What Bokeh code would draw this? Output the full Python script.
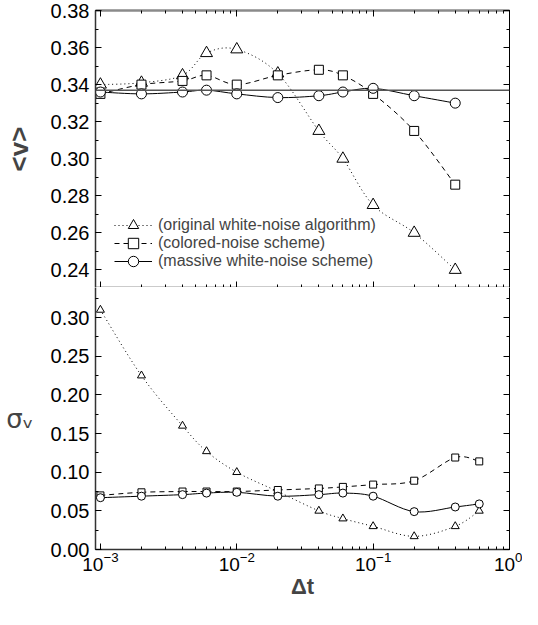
import numpy as np
from bokeh.plotting import figure
from bokeh.layouts import column
from bokeh.models import (Range1d, LogAxis, LinearAxis, LogTicker, SingleIntervalTicker,
                          Span, Legend, LegendItem, CustomJSTickFormatter, NumeralTickFormatter)
from bokeh.embed import file_html
from bokeh.resources import INLINE

# ---------------- data ----------------
dt = [0.001, 0.002, 0.004, 0.006, 0.01, 0.02, 0.04, 0.06, 0.1, 0.2, 0.4, 0.6]

# <v> panel
v_orig = [0.340, 0.341, 0.345, 0.357, 0.359, 0.346, 0.315, 0.300, 0.275, 0.260, 0.240]
v_col = [0.335, 0.340, 0.342, 0.345, 0.340, 0.345, 0.348, 0.345, 0.335, 0.315, 0.286]
v_mass = [0.336, 0.335, 0.336, 0.337, 0.335, 0.333, 0.334, 0.336, 0.338, 0.334, 0.330]
v_ref = 0.337

# sigma_v panel
s_orig = [0.310, 0.225, 0.160, 0.127, 0.100, 0.075, 0.050, 0.040, 0.030, 0.017, 0.030, 0.050]
s_col = [0.070, 0.074, 0.075, 0.075, 0.075, 0.077, 0.079, 0.081, 0.084, 0.089, 0.119, 0.114]
s_mass = [0.067, 0.069, 0.071, 0.073, 0.074, 0.069, 0.071, 0.073, 0.069, 0.049, 0.055, 0.059]

labels = ["(original white-noise algorithm)", "(colored-noise scheme)",
          "(massive white-noise scheme)"]

FONT = "Liberation Sans"


def spline_segments(xs, ys):
    """Catmull-Rom segments (in log10-x space) as cubic Bezier control points."""
    lx = np.log10(np.asarray(xs, float))
    y = np.asarray(ys, float)
    n = len(lx)
    px = np.concatenate([[lx[0]], lx, [lx[-1]]])
    py = np.concatenate([[y[0]], y, [y[-1]]])
    x0, y0, x1, y1, cx0, cy0, cx1, cy1 = [], [], [], [], [], [], [], []
    for i in range(n - 1):
        p0x, p1x, p2x, p3x = px[i], px[i + 1], px[i + 2], px[i + 3]
        p0y, p1y, p2y, p3y = py[i], py[i + 1], py[i + 2], py[i + 3]
        x0.append(10 ** p1x); y0.append(p1y)
        x1.append(10 ** p2x); y1.append(p2y)
        cx0.append(10 ** (p1x + (p2x - p0x) / 6)); cy0.append(p1y + (p2y - p0y) / 6)
        cx1.append(10 ** (p2x - (p3x - p1x) / 6)); cy1.append(p2y - (p3y - p1y) / 6)
    return dict(x0=x0, y0=y0, x1=x1, y1=y1, cx0=cx0, cy0=cy0, cx1=cx1, cy1=cy1)


W = 522
FRAME_LEFT = 93
BORDER_RIGHT = 13

x_range = Range1d(10 ** -3.036, 1.0)
blank = "return ''"


def style_axes(p):
    for ax in p.axis:
        ax.major_tick_in = 6
        ax.major_tick_out = 0
        ax.minor_tick_in = 3
        ax.minor_tick_out = 0
        ax.major_tick_line_color = "black"
        ax.minor_tick_line_color = "black"
        ax.axis_line_color = "#333333"
        ax.axis_line_width = 1.5
        ax.major_label_text_font = FONT
        ax.major_label_text_color = "black"
        ax.axis_label_text_font = FONT


def make_fig(height, y_range, top_border, bottom_border):
    p = figure(width=W, height=height, x_axis_type="log", y_axis_type="linear",
               x_axis_location=None, y_axis_location=None,
               x_range=x_range, y_range=y_range, output_backend="svg",
               toolbar_location=None, min_border_left=FRAME_LEFT,
               min_border_right=BORDER_RIGHT, min_border_top=top_border,
               min_border_bottom=bottom_border)
    p.outline_line_color = None
    p.grid.visible = False
    p.background_fill_color = "white"
    p.border_fill_color = "white"
    return p


# ---------------- top panel ----------------
top = make_fig(287, Range1d(0.2305, 0.38), 10, 0)
xt = LogTicker(mantissas=[1], desired_num_ticks=4, num_minor_ticks=10)

ax_b = LogAxis(ticker=xt, formatter=CustomJSTickFormatter(code=blank), major_label_standoff=0)
ax_t = LogAxis(ticker=xt, formatter=CustomJSTickFormatter(code=blank), major_label_standoff=0)
yt_top = SingleIntervalTicker(interval=0.02, num_minor_ticks=2)
ax_l = LinearAxis(ticker=yt_top, formatter=NumeralTickFormatter(format="0.00"),
                  axis_label="<v>", axis_label_text_font_size="26px",
                  axis_label_text_font_style="bold", axis_label_standoff=14,
                  major_label_text_font_size="20px", major_label_standoff=6)
ax_r = LinearAxis(ticker=yt_top, formatter=CustomJSTickFormatter(code=blank),
                  major_label_standoff=0)
top.add_layout(ax_b, "below")
top.add_layout(ax_t, "above")
top.add_layout(ax_l, "left")
top.add_layout(ax_r, "right")
style_axes(top)
for ax in (ax_b, ax_t, ax_r):
    ax.major_label_text_font_size = "1px"
ax_t.axis_line_color = "#8a8a8a"
ax_t.axis_line_width = 2.5
ax_r.axis_line_color = "black"
ax_r.axis_line_width = 1

top.add_layout(Span(location=v_ref, dimension="width", line_color="#555555", line_width=1.5))

styles = [("1 3", "triangle"), ("5 4", "square"), ("solid", "circle")]
sizes_top = {"triangle": 12, "square": 9, "circle": 10}
legend_y = [49, 31, 13]
for (dash, mk), vals, lab, ly in zip(styles, [v_orig, v_col, v_mass], labels, legend_y):
    xs = dt[:len(vals)]
    seg = spline_segments(xs, vals)
    br = top.bezier(x0="x0", y0="y0", x1="x1", y1="y1", cx0="cx0", cy0="cy0",
                    cx1="cx1", cy1="cy1", source=seg, line_color="black",
                    line_width=1, line_dash=dash)
    sr = top.scatter(xs, vals, marker=mk, size=sizes_top[mk], fill_color="white",
                     line_color="black", line_width=1)
    leg = Legend(items=[LegendItem(label=lab, renderers=[br, sr])], location=(19, ly),
                 background_fill_alpha=0, border_line_color=None, label_text_font=FONT,
                 label_text_font_size="16px", glyph_width=38, glyph_height=26,
                 label_height=14, spacing=0, padding=2, margin=0, label_standoff=6)
    top.add_layout(leg, "center")

# ---------------- bottom panel ----------------
bot = make_fig(322, Range1d(0.0, 0.339), 0, 60)
ax_b2 = LogAxis(ticker=xt, axis_label="\u0394t", axis_label_text_font_size="22px",
                axis_label_text_font_style="bold", axis_label_standoff=0,
                major_label_text_font_size="19px", major_label_standoff=2)
yt_bot = SingleIntervalTicker(interval=0.05, num_minor_ticks=2)
ax_l2 = LinearAxis(ticker=yt_bot, formatter=NumeralTickFormatter(format="0.00"),
                   axis_label="\u03c3\u1d65", axis_label_text_font_size="26px",
                   axis_label_orientation="horizontal", axis_label_standoff=14,
                   major_label_text_font_size="20px", major_label_standoff=6)
ax_r2 = LinearAxis(ticker=yt_bot, formatter=CustomJSTickFormatter(code=blank),
                   major_label_standoff=0)
bot.add_layout(ax_b2, "below")
bot.add_layout(ax_l2, "left")
bot.add_layout(ax_r2, "right")
style_axes(bot)
ax_l2.axis_label_text_font = "DejaVu Sans"
ax_l2.axis_label_text_font_style = "normal"
ax_r2.major_label_text_font_size = "1px"
ax_r2.axis_line_color = "black"
ax_r2.axis_line_width = 1

sizes_bot = {"triangle": 8, "square": 7, "circle": 8}
for (dash, mk), vals in zip(styles, [s_orig, s_col, s_mass]):
    xs = dt[:len(vals)]
    seg = spline_segments(xs, vals)
    bot.bezier(x0="x0", y0="y0", x1="x1", y1="y1", cx0="cx0", cy0="cy0",
               cx1="cx1", cy1="cy1", source=seg, line_color="black",
               line_width=1, line_dash=dash)
    bot.scatter(xs, vals, marker=mk, size=sizes_bot[mk], fill_color="white",
                line_color="black", line_width=1)

layout = column(top, bot, spacing=0)
open("out.html", "w").write(file_html(layout, INLINE))
